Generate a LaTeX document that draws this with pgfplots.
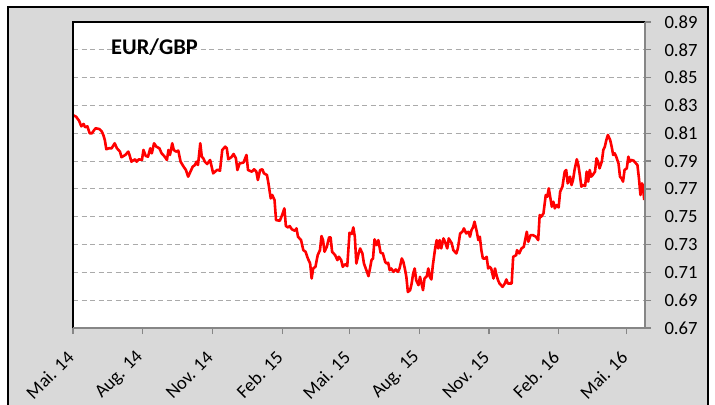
\documentclass[border=0pt]{standalone}
\usepackage{pgfplots}
\pgfplotsset{compat=1.18}
\usepackage{fontspec}
\setmainfont{Carlito}
\definecolor{bggray}{RGB}{217,217,217}
\definecolor{gridgray}{RGB}{170,170,170}
\definecolor{axgray}{RGB}{134,134,134}
\begin{document}
\begin{tikzpicture}
\useasboundingbox (0,0) rectangle (715bp,-405bp);
\fill[white] (0,0) rectangle (715bp,-405bp);
\filldraw[fill=bggray, draw=black, line width=1.2bp] (8bp,-7bp) rectangle (708bp,-420bp);
\begin{axis}[
  at={(73bp,-328bp)}, anchor=south west,
  scale only axis, width=572bp, height=306bp,
  xmin=0, xmax=755, ymin=0.67, ymax=0.89,
  xtick={0,92,184,276,365,457,549,641,731},
  xticklabels={Mai. 14,Aug. 14,Nov. 14,Feb. 15,Mai. 15,Aug. 15,Nov. 15,Feb. 16,Mai. 16},
  ytick={0.67,0.69,0.71,0.73,0.75,0.77,0.79,0.81,0.83,0.85,0.87,0.89},
  xtick pos=left, ytick pos=right, yticklabel pos=right,
  tick align=outside, major tick length=6bp,
  tick style={axgray, line width=1.2bp},
  axis line style={draw=none},
  axis background/.style={fill=white},
  ymajorgrids,
  grid style={gridgray, line width=1bp, dash pattern=on 5bp off 3.5bp},
  /pgf/number format/assume math mode=true,
  yticklabel style={/pgf/number format/.cd, fixed, fixed zerofill, precision=2, /tikz/.cd, xshift=10bp},
  ticklabel style={font=\fontsize{18.7}{22}\selectfont},
  xticklabel style={yshift=-18bp, rotate=45, anchor=east},
  clip=false,
]
\addplot[red, line width=2.6bp, line join=round] coordinates {
(0,0.823)(4,0.822)(8,0.819)(11,0.815)(14,0.8167)(16,0.8143)(19,0.815)(22,0.810)(25,0.810)(28,0.8124)
(30,0.8136)(35,0.813)(38,0.8113)(40,0.8088)(42,0.8052)(44,0.7985)(47,0.7992)(51,0.7992)(55,0.8028)(58,0.7992)
(62,0.7968)(64,0.7928)(69,0.7944)(73,0.7968)(75,0.7937)(77,0.7896)(82,0.7913)(84,0.7896)(87,0.7913)(91,0.7908)
(93,0.798)(96,0.7937)(99,0.7932)(102,0.7992)(104,0.7956)(107,0.8028)(110,0.8004)(114,0.7992)(117,0.7956)(121,0.7932)
(124,0.7908)(126,0.798)(128,0.7944)(131,0.8028)(133,0.798)(136,0.7968)(139,0.7975)(142,0.7896)(146,0.786)(149,0.7836)
(152,0.7788)(154,0.7812)(158,0.786)(161,0.7872)(163,0.7896)(165,0.7872)(168,0.8028)(170,0.7932)(172,0.792)(174,0.7896)
(177,0.7879)(181,0.7908)(183,0.786)(185,0.7812)(190,0.7836)(192,0.7836)(194,0.783)(197,0.798)(201,0.8004)(203,0.7992)
(205,0.7913)(209,0.7928)(212,0.7951)(215,0.792)(217,0.7836)(220,0.7884)(225,0.7889)(229,0.7944)(231,0.7836)(236,0.7824)
(239,0.7841)(242,0.7824)(244,0.7764)(247,0.7836)(250,0.7841)(252,0.7812)(256,0.78)(258,0.774)(261,0.7632)(263,0.7656)
(266,0.762)(268,0.7476)(273,0.7471)(276,0.7512)(279,0.756)(281,0.7433)(284,0.7423)(286,0.7433)(289,0.7409)(293,0.7399)
(295,0.7416)(297,0.7356)(301,0.7332)(304,0.726)(307,0.7248)(310,0.72)(313,0.7164)(315,0.7056)(317,0.7128)(320,0.714)
(323,0.7224)(326,0.726)(328,0.7361)(330,0.7332)(332,0.7248)(335,0.7284)(338,0.7352)(340,0.7352)(342,0.7248)(346,0.7224)
(349,0.7188)(351,0.7212)(354,0.7188)(356,0.714)(359,0.7159)(362,0.7145)(365,0.7385)(368,0.7376)(370,0.7423)(372,0.7356)
(374,0.7164)(377,0.7236)(379,0.7272)(382,0.7236)(384,0.7164)(388,0.7104)(390,0.7073)(392,0.7128)(394,0.7188)(396,0.72)
(398,0.7337)(401,0.7296)(403,0.7332)(406,0.7241)(409,0.7236)(412,0.7176)(414,0.7164)(416,0.7169)(418,0.7116)(420,0.7128)
(423,0.7104)(426,0.7121)(429,0.7104)(431,0.7128)(434,0.72)(436,0.7176)(438,0.7128)(440,0.7068)(442,0.6959)(445,0.6972)
(447,0.702)(449,0.7092)(451,0.7128)(453,0.7044)(456,0.7008)(458,0.7068)(460,0.702)(462,0.6972)(464,0.7056)(467,0.7073)
(469,0.7128)(471,0.7068)(473,0.7049)(475,0.7152)(478,0.7272)(480,0.7332)(482,0.7272)(484,0.7332)(486,0.7272)(489,0.7344)
(491,0.732)(494,0.7272)(496,0.7344)(500,0.7308)(502,0.726)(506,0.7236)(508,0.7272)(511,0.738)(514,0.7392)(516,0.7416)
(519,0.738)(522,0.7392)(524,0.7356)(526,0.7404)(528,0.7423)(530,0.7464)(533,0.7392)(535,0.7332)(537,0.7356)(539,0.726)
(541,0.72)(544,0.72)(546,0.7212)(548,0.7128)(550,0.714)(552,0.7128)(555,0.7056)(557,0.7128)(559,0.708)(561,0.7044)
(563,0.702)(567,0.6996)(570,0.702)(572,0.7049)(574,0.702)(579,0.702)(581,0.7212)(585,0.7224)(586,0.726)(589,0.7236)
(592,0.7272)(595,0.7284)(599,0.7392)(601,0.732)(604,0.7368)(607,0.7368)(611,0.7356)(614,0.7332)(616,0.7512)(618,0.75)
(621,0.7524)(624,0.7656)(626,0.7644)(628,0.7704)(632,0.7572)(634,0.7608)(636,0.756)(638,0.7584)(641,0.7567)(643,0.768)
(646,0.7716)(649,0.7824)(651,0.7836)(653,0.774)(656,0.7788)(658,0.7728)(660,0.7764)(662,0.7836)(665,0.7913)(667,0.7872)
(669,0.78)(671,0.7716)(673,0.7728)(676,0.7721)(678,0.7824)(680,0.7752)(682,0.7836)(684,0.7788)(686,0.78)(689,0.7824)
(691,0.792)(693,0.7896)(695,0.7848)(698,0.7896)(700,0.798)(702,0.8004)(704,0.8052)(706,0.8088)(709,0.8052)(711,0.8004)
(713,0.7944)(715,0.7956)(717,0.7932)(720,0.7884)(722,0.7788)(724,0.7776)(726,0.7752)(728,0.7836)(731,0.7848)(733,0.7932)
(735,0.7896)(737,0.7908)(740,0.7903)(743,0.7884)(745,0.7872)(747,0.7776)(749,0.7656)(751,0.774)(752,0.7728)(754,0.762)
};
\draw[black, line width=1.5bp] (rel axis cs:0,0) -- (rel axis cs:0,1) -- (rel axis cs:1,1);
\draw[axgray, line width=2bp] (rel axis cs:1,1) -- (rel axis cs:1,0) -- (rel axis cs:0,0);
\end{axis}
\node[anchor=base west, font=\bfseries\fontsize{22.5}{24}\selectfont, inner sep=0pt] at (111bp,-54bp) {EUR/GBP};
\end{tikzpicture}
\end{document}
